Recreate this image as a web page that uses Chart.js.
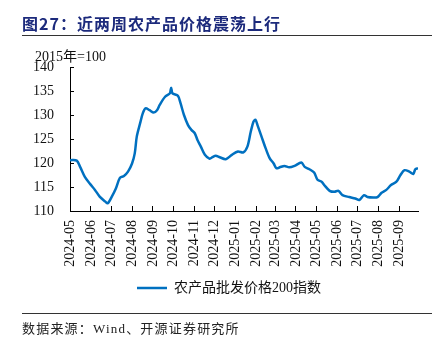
<!DOCTYPE html>
<html>
<head>
<meta charset="utf-8">
<script src="https://cdn.jsdelivr.net/npm/chart.js@4"></script>
<style>
  body { margin: 0; background: #fff; }
  #wrap { position: relative; width: 447px; height: 338px; overflow: hidden; }
  #c { position: absolute; left: 0; top: 0; }
  .title {
    position: absolute; left: 22px; top: 11px;
    font: bold 16px "Noto Sans CJK SC", sans-serif; letter-spacing: 1px;
    color: #1c2a7c; white-space: nowrap;
  }
  .rule { position: absolute; left: 22px; width: 410px; height: 1px; background: #333; }
  .unit {
    position: absolute; left: 35px; top: 45px;
    font: 14px "Liberation Serif", "Noto Sans CJK SC", serif; color: #111;
  }
  .source {
    position: absolute; left: 22px; top: 318px;
    font: 13px "Liberation Serif", "Noto Sans CJK SC", serif; letter-spacing: 1.2px;
    color: #222; white-space: nowrap;
  }
</style>
</head>
<body>
<div id="wrap">
  <canvas id="c" width="447" height="338"></canvas>
  <div class="title">图27：近两周农产品价格震荡上行</div>
  <div class="rule" style="top:35px"></div>
  <div class="unit">2015年=100</div>
  <div class="rule" style="top:313px"></div>
  <div class="source">数据来源：Wind、开源证券研究所</div>
</div>
<script>
// 农产品批发价格200指数 (2015=100)
const dates = [
  '2024-05-01','2024-05-11','2024-05-16','2024-05-23','2024-05-31','2024-06-07','2024-06-14','2024-06-22',
  '2024-06-26','2024-07-02','2024-07-08','2024-07-14','2024-07-20','2024-07-26','2024-08-01','2024-08-05',
  '2024-08-08','2024-08-13','2024-08-17','2024-08-21','2024-08-27','2024-09-02','2024-09-07','2024-09-11',
  '2024-09-19','2024-09-26','2024-09-28','2024-09-30','2024-10-08','2024-10-12','2024-10-17','2024-10-23',
  '2024-10-28','2024-11-02','2024-11-06','2024-11-11','2024-11-17','2024-11-24','2024-11-29','2024-12-03',
  '2024-12-09','2024-12-18','2024-12-27','2025-01-05','2025-01-13','2025-01-19','2025-01-24','2025-01-28',
  '2025-01-31','2025-02-03','2025-02-09','2025-02-15','2025-02-21','2025-02-27','2025-03-03','2025-03-08',
  '2025-03-15','2025-03-22','2025-03-30','2025-04-09','2025-04-14','2025-04-21','2025-04-28','2025-05-03',
  '2025-05-09','2025-05-13','2025-05-21','2025-05-28','2025-06-03','2025-06-09','2025-06-19','2025-06-28',
  '2025-07-04','2025-07-11','2025-07-16','2025-07-25','2025-07-31','2025-08-06','2025-08-13','2025-08-20',
  '2025-08-28','2025-09-03','2025-09-09','2025-09-16','2025-09-22','2025-09-25','2025-09-29'
];
const priceIndex = [
  120.6, 120.5, 119.2, 117.1, 115.6, 114.4, 113.0, 112.0,
  111.6, 113.0, 114.7, 116.9, 117.3, 118.2, 119.9, 122.0,
  125.5, 128.3, 130.4, 131.4, 131.0, 130.5, 131.0, 132.1,
  133.8, 134.5, 135.7, 134.5, 134.0, 132.4, 130.0, 127.9,
  126.9, 126.2, 124.8, 123.4, 121.7, 120.9, 121.3, 121.5,
  121.2, 120.8, 121.7, 122.4, 122.2, 123.4, 126.5, 128.6,
  129.0, 127.9, 125.5, 123.1, 121.0, 119.9, 118.9, 119.1,
  119.4, 119.1, 119.4, 120.1, 119.2, 118.7, 118.0, 116.5,
  116.1, 115.4, 114.2, 114.0, 114.2, 113.3, 112.9, 112.6,
  112.3, 113.3, 112.9, 112.8, 112.9, 113.8, 114.4, 115.4,
  116.1, 117.5, 118.5, 118.2, 117.7, 118.7, 118.9
];
const tickLabels = [
  '2024-05','2024-06','2024-07','2024-08','2024-09','2024-10','2024-11','2024-12',
  '2025-01','2025-02','2025-03','2025-04','2025-05','2025-06','2025-07','2025-08','2025-09'
];
const seriesName = '农产品批发价格200指数';

const start = Date.UTC(2024, 4, 1);
const dayOf = s => {
  const [y, m, d] = s.split('-').map(Number);
  return Math.round((Date.UTC(y, m - 1, d || 1) - start) / 86400000);
};
const tickDays = tickLabels.map(dayOf);
const points = dates.map((d, i) => ({ x: dayOf(d), y: priceIndex[i] }));

const serif = "'Liberation Serif', 'Times New Roman', serif";

// legend sits a little right of the page centre in the original
const nudgeLegend = {
  id: 'nudgeLegend',
  afterLayout(chart) {
    chart.legend.left += 6;
    chart.legend.right += 6;
  }
};

new Chart(document.getElementById('c'), {
  type: 'line',
  data: {
    datasets: [{
      label: seriesName,
      data: points,
      borderColor: '#0070c0',
      backgroundColor: '#0070c0',
      borderWidth: 2.5,
      pointRadius: 0,
      tension: 0.3,
      fill: false
    }]
  },
  plugins: [nudgeLegend],
  options: {
    responsive: false,
    animation: false,
    layout: { padding: { left: 28, right: 29, top: 67, bottom: 33 } },
    plugins: {
      tooltip: { enabled: false },
      legend: {
        position: 'bottom',
        labels: {
          usePointStyle: true,
          pointStyle: 'line',
          pointStyleWidth: 30,
          padding: 8,
          color: '#111',
          font: { family: serif + ", 'Noto Sans CJK SC'", size: 14 }
        }
      }
    },
    scales: {
      x: {
        type: 'linear',
        min: 0,
        max: dayOf('2025-09-29'),
        afterBuildTicks: s => { s.ticks = tickDays.map(v => ({ value: v })); },
        afterFit: s => { s.height = 62; },
        grid: { drawOnChartArea: false, tickLength: -5, color: '#000' },
        border: { color: '#000', width: 1 },
        ticks: {
          autoSkip: false,
          minRotation: 90,
          maxRotation: 90,
          padding: 14,
          color: '#111',
          font: { family: serif, size: 14 },
          callback: (v, i) => tickLabels[i]
        }
      },
      y: {
        min: 110,
        max: 140,
        afterFit: s => { s.width = 42; },
        grid: { drawOnChartArea: false, tickLength: -4, color: '#000' },
        border: { color: '#000', width: 1 },
        ticks: {
          stepSize: 5,
          padding: 20,
          color: '#111',
          font: { family: serif, size: 14 }
        }
      }
    }
  }
});
</script>
</body>
</html>
